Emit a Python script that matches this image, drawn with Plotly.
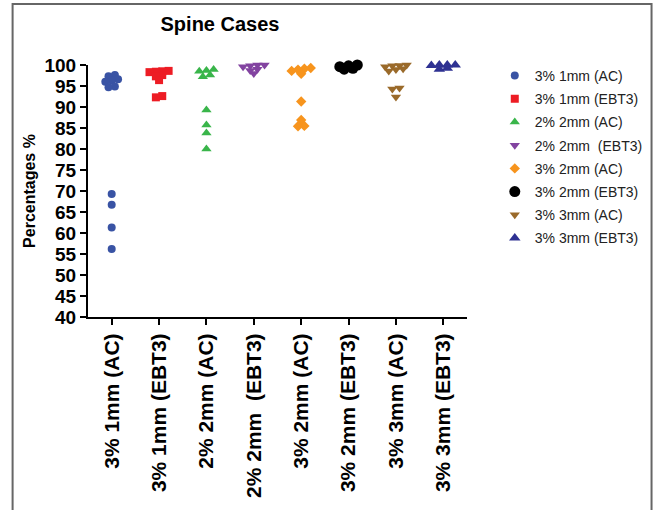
import plotly.graph_objects as go

# categories (x axis) and legend names
categories = ['3% 1mm (AC)', '3% 1mm (EBT3)', '2% 2mm (AC)', '2% 2mm\u00a0 (EBT3)',
              '3% 2mm (AC)', '3% 2mm (EBT3)', '3% 3mm (AC)', '3% 3mm (EBT3)']

# percentage values per group
ac_3_1mm = [97.6, 97.3, 96.6, 96.3, 96.0, 94.9, 94.7, 69.3, 66.7, 61.3, 56.2]
ebt3_3_1mm = [98.6, 98.5, 98.4, 98.3, 97.6, 97.3, 96.4, 92.6, 92.3]
ac_2_2mm = [98.9, 98.7, 98.5, 97.6, 97.2, 89.3, 85.7, 83.8, 80.0]
ebt3_2_2mm = [100.0, 100.0, 99.8, 99.6, 99.0, 98.7, 98.0]
ac_3_2mm = [99.3, 99.1, 98.9, 98.6, 97.9, 91.3, 86.9, 85.5, 85.4]
ebt3_3_2mm = [100.0, 99.8, 99.6, 99.2, 99.0]
ac_3_3mm = [100.0, 99.9, 99.8, 99.6, 99.1, 98.9, 98.6, 94.5, 94.3, 92.4]
ebt3_3_3mm = [100.0, 100.0, 100.0, 99.9, 99.2, 99.0]

groups = [ac_3_1mm, ebt3_3_1mm, ac_2_2mm, ebt3_2_2mm,
          ac_3_2mm, ebt3_3_2mm, ac_3_3mm, ebt3_3_3mm]

colors = ['#3953a4', '#ed1c24', '#39b54a', '#8243a0',
          '#f7941d', '#000000', '#9a6a2a', '#2e3192']
symbols = ['circle', 'square', 'triangle-up', 'triangle-down',
           'diamond', 'circle', 'triangle-down', 'triangle-up']
sizes = [8, 8, 9, 9, 8, 11, 9, 10]

PX_PER_CAT = 47.6


def scatter_offsets(values, size, bin_w=1.2, top=100.6):
    # Prism-like scatter: points in the same value band are spread sideways
    rows = {}
    for i, v in enumerate(values):
        rows.setdefault(int((top - v) // bin_w), []).append(i)
    step = size * 0.8 / PX_PER_CAT
    off = [0.0] * len(values)
    for idx in rows.values():
        n = len(idx)
        for k, i in enumerate(sorted(idx, key=lambda j: values[j])):
            off[i] = (k - (n - 1) / 2) * step
    return off


fig = go.Figure()
for i, vals in enumerate(groups):
    offs = scatter_offsets(vals, sizes[i])
    fig.add_trace(go.Scatter(
        x=[i + o for o in offs],
        y=vals,
        mode='markers',
        name=categories[i],
        legendgroup=str(i),
        marker=dict(color=colors[i], symbol=symbols[i], size=sizes[i], line=dict(width=0)),
        cliponaxis=False,
    ))

# pixel helpers for the outer frame
L, R, T, B = 88, 470, 65, 317


def px_x(p):
    return (p - L) / (R - L)


def px_y(p):
    return (B - p) / (B - T)


fig.add_shape(type='rect', xref='paper', yref='paper',
              x0=px_x(12), x1=px_x(656), y0=px_y(520), y1=px_y(4),
              line=dict(color='#666666', width=2))

fig.update_layout(
    width=660, height=510,
    margin=dict(l=L, r=660 - R, t=T, b=510 - B),
    paper_bgcolor='white', plot_bgcolor='white',
    font=dict(family='Arial, Liberation Sans, sans-serif', color='black'),
    title=dict(text='Spine Cases', x=220 / 660, xanchor='center', xref='container',
               y=1 - 24 / 510, yanchor='middle', yref='container',
               font=dict(size=20, weight='bold', color='black')),
    legend=dict(x=px_x(498), y=px_y(60), xanchor='left', yanchor='top',
                font=dict(size=14, color='#222222'), tracegroupgap=2,
                bgcolor='rgba(0,0,0,0)'),
    showlegend=True,
)

fig.update_xaxes(
    range=[-0.5, 7.5], tickmode='array', tickvals=list(range(len(categories))),
    ticktext=categories, tickangle=-90, showgrid=False, zeroline=False,
    showline=True, linecolor='black', linewidth=2, automargin=False,
    ticks='outside', ticklen=6, tickwidth=2, tickcolor='black',
    tickfont=dict(size=21, weight='bold', color='black'),
)

fig.update_yaxes(
    range=[40, 100], tickmode='linear', tick0=40, dtick=5,
    showgrid=False, zeroline=False, automargin=False,
    showline=True, linecolor='black', linewidth=2,
    ticks='outside', ticklen=6, tickwidth=2, tickcolor='black',
    tickfont=dict(size=19, weight='bold', color='black'),
    title=dict(text='Percentages %', font=dict(size=16, weight='bold', color='black'), standoff=5),
)

# page without the default body margin so the figure fills the window
fig.write_html('out.html', config={'displayModeBar': False},
               post_script="document.body.style.margin='0';")
